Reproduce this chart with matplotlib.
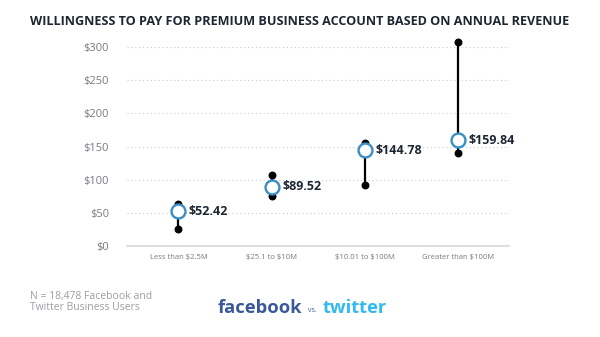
import matplotlib.pyplot as plt

plt.rcParams['text.parse_math'] = False

categories = ['Less than $2.5M', '$25.1 to $10M', '$10.01 to $100M', 'Greater than $100M']
low = [25, 75, 92, 141]
high = [63, 107, 156, 308]
mean = [52.42, 89.52, 144.78, 159.84]
yticks = [0, 50, 100, 150, 200, 250, 300]

dark = '#1d2733'
grey = '#767b83'

fig = plt.figure(figsize=(6, 3.37), dpi=100)
ax = fig.add_axes([0.212, 0.270, 0.637, 0.610])

x = list(range(len(categories)))

# range lines with end dots
for i in x:
    ax.plot([i, i], [low[i], high[i]], color='black', lw=1.6, zorder=2, clip_on=False)
ax.scatter(x, low, s=22, color='black', zorder=3, clip_on=False)
ax.scatter(x, high, s=22, color='black', zorder=3, clip_on=False)

# mean markers
ax.scatter(x, mean, s=100, facecolor='white', edgecolor='#3a8dc5', linewidth=1.7, zorder=4, clip_on=False)
for i in x:
    ax.annotate('$%.2f' % mean[i], (i, mean[i]), xytext=(7.5, 0), textcoords='offset points',
                va='center', ha='left', fontsize=9, fontweight='bold', color=dark,
                family='Open Sans')

ax.set_xlim(-0.55, 3.55)
ax.set_ylim(0, 310)
ax.set_yticks(yticks)
ax.set_yticklabels(['$%d' % v for v in yticks], fontsize=8, color=grey, family='Open Sans')
ax.set_xticks(x)
ax.set_xticklabels(categories, fontsize=5.5, color=grey, family='Open Sans')
ax.tick_params(length=0)
ax.tick_params(axis='y', pad=13)
ax.tick_params(axis='x', pad=6)

for v in yticks[1:]:
    ax.axhline(v, color='#c8ccd0', lw=0.8, ls=(0, (1, 2.5)), zorder=1)
for s in ['top', 'right', 'left']:
    ax.spines[s].set_visible(False)
ax.spines['bottom'].set_color('#d5d8dc')
ax.spines['bottom'].set_linewidth(1.2)

fig.text(0.5, 0.935, 'WILLINGNESS TO PAY FOR PREMIUM BUSINESS ACCOUNT BASED ON ANNUAL REVENUE',
         ha='center', va='center', fontsize=9.1, fontweight='bold', color=dark, family='Open Sans')

fig.text(0.05, 0.104, 'N = 18,478 Facebook and\nTwitter Business Users', ha='left', va='center',
         fontsize=7.5, color='#9a9ea4', family='Open Sans', linespacing=1.1)

fig.text(0.503, 0.086, 'facebook', ha='right', va='center', fontsize=13.2, fontweight='bold',
         color='#3b5998', family='Open Sans')
fig.text(0.52, 0.08, 'vs.', ha='center', va='center', fontsize=5, color='#3b5998', family='Open Sans')
fig.text(0.538, 0.086, 'twitter', ha='left', va='center', fontsize=13.2, fontweight='bold',
         color='#33bbee', family='Open Sans')

fig.savefig('out.png', dpi=100)
